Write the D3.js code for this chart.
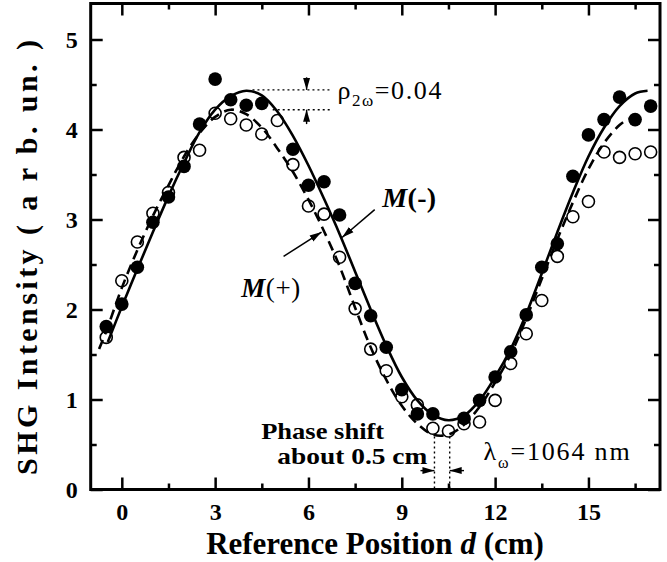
<!DOCTYPE html>
<html><head><meta charset="utf-8">
<script src="https://cdn.jsdelivr.net/npm/d3@7"></script>
<style>html,body{margin:0;padding:0;background:#fff;} svg{display:block;}</style>
</head><body><svg id="c" width="667" height="562"></svg>
<script>
// ---- data ----
const posMinus = [-0.5,0,0.5,1,1.5,2,2.5,3,3.5,4,4.5,5.5,6,6.5,7,7.5,8,8.5,9,9.5,10,11,11.5,12,12.5,13,13.5,14,14.5,15,15.5,16,16.5,17];
const shgMinus = [1.81,2.06,2.47,2.97,3.25,3.59,4.06,4.56,4.33,4.27,4.29,3.78,3.38,3.42,3.05,2.29,1.93,1.58,1.11,0.84,0.84,0.79,0.99,1.25,1.53,1.94,2.47,2.73,3.48,3.94,4.11,4.36,4.11,4.26];
const posPlus = [-0.5,0,0.5,1,1.5,2,2.5,3,3.5,4,4.5,5,5.5,6,6.5,7,7.5,8,8.5,9,9.5,10,10.5,11,11.5,12,12.5,13,13.5,14,14.5,15,15.5,16,16.5,17];
const shgPlus = [1.69,2.32,2.75,3.07,3.30,3.69,3.77,4.18,4.12,4.05,3.95,4.10,3.61,3.15,3.06,2.58,2.01,1.56,1.32,1.03,0.94,0.68,0.65,0.73,0.75,0.99,1.40,1.73,2.10,2.59,3.03,3.20,3.75,3.69,3.73,3.75];
const fitMinusX = [-0.45,0,0.5,1,1.5,2,2.5,3,3.5,4,4.5,5,5.5,6,6.5,7,7.5,8,8.5,9,9.5,10,10.5,11,11.5,12,12.5,13,13.5,14,14.5,15,15.5,16,16.5,16.9];
const fitMinusY = [1.64,2.03,2.45,2.86,3.26,3.63,3.97,4.22,4.37,4.43,4.38,4.20,3.93,3.60,3.23,2.84,2.42,2.00,1.60,1.25,0.99,0.83,0.77,0.82,0.99,1.25,1.56,1.95,2.40,2.86,3.30,3.70,4.02,4.26,4.40,4.43];
const fitPlusX = [-0.73,-0.5,0,0.5,1,1.5,2,2.5,3,3.5,4,4.5,5,5.5,6,6.5,7,7.5,8,8.5,9,9.5,10,10.5,11,11.5,12,12.5,13,13.5,14,14.5,15,15.5,16,16.3];
const fitPlusY = [1.56,1.76,2.24,2.66,3.04,3.38,3.70,3.96,4.14,4.22,4.17,4.02,3.79,3.53,3.22,2.87,2.48,2.02,1.58,1.22,0.93,0.73,0.61,0.61,0.72,0.92,1.19,1.50,1.90,2.34,2.78,3.19,3.56,3.85,4.05,4.12];
const xMajor = [0,3,6,9,12,15];
const xMinor = [1.5,4.5,7.5,10.5,13.5,16.5];
const yMajor = [0,1,2,3,4,5];
const yMinor = [0.5,1.5,2.5,3.5,4.5];
const xTitle = "Reference Position ";
const yTitle = "SHG Intensity ( a r b. un. )";

// ---- drawing ----
const svg = d3.select("#c");
const FONT = "'Liberation Serif','Times New Roman',serif";
const x = d3.scaleLinear().domain([-1, 17.3]).range([90.7, 660]);
const y = d3.scaleLinear().domain([0, 5.4]).range([489.5, 3.5]);
const L = x.range()[0], R = x.range()[1], B = y.range()[0], T = y.range()[1];

function styleAxis(g){ g.select(".domain").remove(); g.selectAll(".tick line").attr("stroke","#000").attr("stroke-width",2.5); }

svg.append("g").attr("transform",`translate(0,${B})`)
  .call(d3.axisBottom(x).tickValues(xMajor).tickSize(-12).tickPadding(13).tickFormat(d3.format("d")))
  .call(styleAxis)
  .call(g=>g.selectAll("text").attr("font-family",FONT).attr("font-weight","bold").attr("font-size",24).attr("fill","#000"));
svg.append("g").attr("transform",`translate(0,${B})`)
  .call(d3.axisBottom(x).tickValues(xMinor).tickSize(-6).tickFormat("")).call(styleAxis);
svg.append("g").attr("transform",`translate(0,${T})`)
  .call(d3.axisTop(x).tickValues(xMajor).tickSize(-12).tickFormat("")).call(styleAxis);
svg.append("g").attr("transform",`translate(0,${T})`)
  .call(d3.axisTop(x).tickValues(xMinor).tickSize(-6).tickFormat("")).call(styleAxis);
svg.append("g").attr("transform",`translate(${L},0)`)
  .call(d3.axisLeft(y).tickValues(yMajor).tickSize(-12).tickPadding(13).tickFormat(d3.format("d")))
  .call(styleAxis)
  .call(g=>g.selectAll("text").attr("font-family",FONT).attr("font-weight","bold").attr("font-size",24).attr("fill","#000"));
svg.append("g").attr("transform",`translate(${L},0)`)
  .call(d3.axisLeft(y).tickValues(yMinor).tickSize(-6).tickFormat("")).call(styleAxis);
svg.append("g").attr("transform",`translate(${R},0)`)
  .call(d3.axisRight(y).tickValues(yMajor).tickSize(-12).tickFormat("")).call(styleAxis);
svg.append("g").attr("transform",`translate(${R},0)`)
  .call(d3.axisRight(y).tickValues(yMinor).tickSize(-6).tickFormat("")).call(styleAxis);

svg.append("rect").attr("x",L).attr("y",T).attr("width",R-L).attr("height",B-T)
  .attr("fill","none").attr("stroke","#000").attr("stroke-width",3);

// points
const ptsPlus = posPlus.map((d,i)=>[d,shgPlus[i]]);
const ptsMinus = posMinus.map((d,i)=>[d,shgMinus[i]]);
svg.append("g").selectAll("circle").data(ptsPlus).join("circle")
  .attr("cx",d=>x(d[0])).attr("cy",d=>y(d[1])).attr("r",6)
  .attr("fill","#fff").attr("stroke","#000").attr("stroke-width",1.6);
svg.append("g").selectAll("circle").data(ptsMinus).join("circle")
  .attr("cx",d=>x(d[0])).attr("cy",d=>y(d[1])).attr("r",6.8).attr("fill","#000");

// fit curves
const line = d3.line().x(d=>x(d[0])).y(d=>y(d[1])).curve(d3.curveCatmullRom.alpha(0.5));
svg.append("path").datum(fitPlusX.map((d,i)=>[d,fitPlusY[i]])).attr("d",line)
  .attr("fill","none").attr("stroke","#000").attr("stroke-width",2.6).attr("stroke-dasharray","10,6");
svg.append("path").datum(fitMinusX.map((d,i)=>[d,fitMinusY[i]])).attr("d",line)
  .attr("fill","none").attr("stroke","#000").attr("stroke-width",2.6);

// arrow marker
const defs = svg.append("defs");
defs.append("marker").attr("id","ah").attr("viewBox","0 -4 12 8").attr("refX",12).attr("refY",0)
  .attr("markerWidth",12).attr("markerHeight",8).attr("markerUnits","userSpaceOnUse").attr("orient","auto")
  .append("path").attr("d","M0,-3.5L12,0L0,3.5Z").attr("fill","#000");

function seg(x1,y1,x2,y2,opts){
  const p = svg.append("line").attr("x1",x(x1)).attr("y1",y(y1)).attr("x2",x(x2)).attr("y2",y(y2))
    .attr("stroke","#000").attr("stroke-width",opts.w||1.5);
  if(opts.dot) p.attr("stroke-dasharray","2,3");
  if(opts.arrow) p.attr("marker-end","url(#ah)");
  return p;
}
// rho annotation
seg(4.2,4.44,6.77,4.44,{dot:true,w:1.4});
seg(4.85,4.22,6.77,4.22,{dot:true,w:1.4});
seg(5.94,4.58,5.94,4.44,{arrow:true,w:1.4});
seg(5.94,4.06,5.94,4.22,{arrow:true,w:1.4});
const rho = svg.append("text").attr("x",x(6.93)).attr("y",y(4.34)).attr("font-family",FONT).attr("font-size",26)
  .attr("textLength",104).attr("lengthAdjust","spacing").attr("fill","#000");
rho.append("tspan").text("ρ");
rho.append("tspan").attr("font-size",17).attr("dy",7).text("2ω");
rho.append("tspan").attr("dy",-7).text("=0.04");

// M(-) and M(+)
const mm = svg.append("text").attr("x",x(8.37)).attr("y",y(3.14)).attr("font-family",FONT).attr("font-size",28).attr("font-weight","bold")
  .attr("textLength",54).attr("lengthAdjust","spacing").attr("fill","#000");
mm.append("tspan").attr("font-style","italic").text("M");
mm.append("tspan").text("(-)");
seg(8.13,3.11,7.08,2.80,{arrow:true,w:1.5});
const mp = svg.append("text").attr("x",x(3.84)).attr("y",y(2.14)).attr("font-family",FONT).attr("font-size",27)
  .attr("textLength",59).attr("lengthAdjust","spacing").attr("fill","#000");
mp.append("tspan").attr("font-style","italic").attr("font-weight","bold").text("M");
mp.append("tspan").text("(+)");
seg(5.2,2.59,6.42,2.86,{arrow:true,w:1.5});

// phase shift
seg(10.05,0.59,10.05,0,{dot:true,w:1.4});
seg(10.54,0.59,10.54,0,{dot:true,w:1.4});
seg(9.6,0.21,10.05,0.21,{arrow:true,w:1.4});
seg(11.0,0.21,10.54,0.21,{arrow:true,w:1.4});
svg.append("text").attr("x",x(4.48)).attr("y",y(0.565)).attr("font-family",FONT).attr("font-size",23).attr("font-weight","bold")
  .attr("textLength",123).attr("lengthAdjust","spacingAndGlyphs").text("Phase shift");
svg.append("text").attr("x",x(5.0)).attr("y",y(0.285)).attr("font-family",FONT).attr("font-size",23).attr("font-weight","bold")
  .attr("textLength",150).attr("lengthAdjust","spacingAndGlyphs").text("about 0.5 cm");

// lambda
const lam = svg.append("text").attr("x",x(11.63)).attr("y",y(0.33)).attr("font-family",FONT).attr("font-size",26)
  .attr("textLength",146).attr("lengthAdjust","spacing").attr("fill","#000");
lam.append("tspan").text("λ");
lam.append("tspan").attr("font-size",16).attr("dy",8).text("ω");
lam.append("tspan").attr("dy",-8).text("=1064 nm");

// axis titles
const xt = svg.append("text").attr("x",375).attr("y",554).attr("text-anchor","middle")
  .attr("font-family",FONT).attr("font-size",31).attr("font-weight","bold").attr("fill","#000");
xt.append("tspan").text(xTitle);
xt.append("tspan").attr("font-style","italic").text("d");
xt.append("tspan").text(" (cm)");
svg.append("text").attr("transform",`translate(37,${257.5}) rotate(-90)`).attr("text-anchor","middle")
  .attr("font-family",FONT).attr("font-size",30).attr("font-weight","bold")
  .attr("textLength",435).attr("lengthAdjust","spacing").attr("fill","#000")
  .text(yTitle);
</script></body></html>
